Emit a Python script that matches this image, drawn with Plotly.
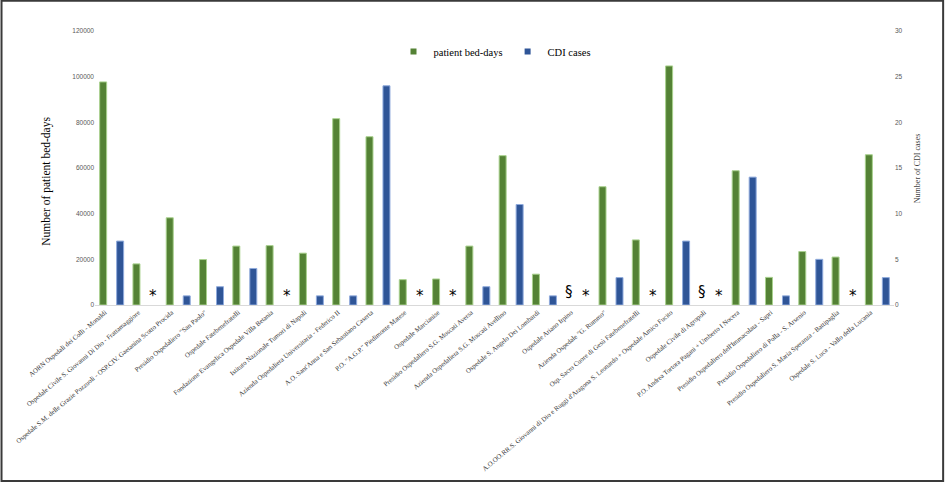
import plotly.graph_objects as go

hospitals = [
    "AORN Ospedali dei Colli - Monaldi",
    "Ospedale Civile S. Giovanni Di Dio - Frattamaggiore",
    "Ospedale S.M. delle Grazie Pozzuoli - OSP.CIV. Gaetanina Scotto Procida",
    "Presidio Ospedaliero \"San Paolo\"",
    "Ospedale Fatebenefratelli",
    "Fondazione Evangelica Ospedale Villa Betania",
    "Istituto Nazionale Tumori di Napoli",
    "Azienda Ospedaliera Universitaria - Federico II",
    "A.O. Sant'Anna e San Sebastiano Caserta",
    "P.O. \"A.G.P.\" Piedimonte Matese",
    "Ospedale Marcianise",
    "Presidio Ospedaliero S.G. Moscati Aversa",
    "Azienda Ospedaliera S.G. Moscati Avellino",
    "Ospedale S. Angelo Dei Lombardi",
    "Ospedale Ariano Irpino",
    "Azienda Ospedale \"G. Rummo\"",
    "Osp. Sacro Cuore di Gesù Fatebenefratelli",
    "A.O.OO.RR.S. Giovanni di Dio e Ruggi d'Aragona S. Leonardo + Ospedale Amico Fucito",
    "Ospedale Civile di Agropoli",
    "P.O. Andrea Tortora Pagani + Umberto I Nocera",
    "Presidio Ospedaliero dell'Immacolata - Sapri",
    "Presidio Ospedaliero di Polla - S. Arsenio",
    "Presidio Ospedaliero S. Maria Speranza - Battipaglia",
    "Ospedale S. Luca - Vallo della Lucania",
]

# None = not available (marked with a symbol on the chart)
bed_days = [97700, 18000, 38200, 19900, 25800, 26000, 22700, 81600, 73700, 11100,
            11400, 25800, 65400, 13500, None, 51800, 28500, 104700, None, 58800,
            12100, 23400, 21000, 65800]
cdi_cases = [7, None, 1, 2, 4, None, 1, 1, 24, None,
             None, 2, 11, 1, None, 3, None, 7, None, 14,
             1, 5, None, 3]

bed_days_note = ["§" if v is None else "" for v in bed_days]
cdi_note = ["*" if v is None else "" for v in cdi_cases]

green = "#548235"
blue = "#2F5597"
idx = list(range(len(hospitals)))

fig = go.Figure()
fig.add_trace(go.Bar(x=idx, y=bed_days, name="patient bed-days", marker_color=green,
                     marker_line=dict(color="#A9D18E", width=1),
                     width=0.21, offset=-0.36, showlegend=False))
fig.add_trace(go.Bar(x=idx, y=cdi_cases, name="CDI cases", marker_color=blue,
                     marker_line=dict(color="#8FAADC", width=1),
                     width=0.21, offset=0.15, yaxis="y2", showlegend=False))

# legend entries with small square keys
fig.add_trace(go.Scatter(x=[None], y=[None], mode="markers", name="patient bed-days",
                         marker=dict(symbol="square", size=6, color=green)))
fig.add_trace(go.Scatter(x=[None], y=[None], mode="markers", name="CDI cases",
                         marker=dict(symbol="square", size=6, color=blue)))

for i, n in enumerate(bed_days_note):
    if n:
        fig.add_annotation(x=i - 0.255, y=0, text=n, showarrow=False, yanchor="bottom",
                           yshift=2, font=dict(family="DejaVu Sans", size=15, color="black"))
for i, n in enumerate(cdi_note):
    if n:
        fig.add_annotation(x=i + 0.255, y=0, text=n, showarrow=False, yanchor="bottom",
                           yshift=-2, font=dict(family="DejaVu Sans", size=15, color="black"))

fig.add_annotation(text="Number of patient bed-days", xref="paper", yref="paper",
                   x=-0.06, y=0.45, xanchor="center", yanchor="middle",
                   textangle=-90, showarrow=False,
                   font=dict(family="Liberation Serif", size=11.5, color="black"))
fig.add_annotation(text="Number of CDI cases", xref="paper", yref="paper",
                   x=1.029, y=0.50, xanchor="center", yanchor="middle",
                   textangle=-90, showarrow=False,
                   font=dict(family="Liberation Serif", size=8, color="#404040"))

# outer frame of the picture
fig.add_shape(type="rect", xref="paper", yref="paper",
              x0=-0.117, x1=1.0615, y0=-0.642, y1=1.11,
              line=dict(color="#3A3A3A", width=2))

fig.update_layout(
    width=945, height=482,
    margin=dict(l=95, r=51, t=31, b=177, autoexpand=False),
    plot_bgcolor="white", paper_bgcolor="white",
    legend=dict(orientation="h", x=0.5, xanchor="center", y=0.925, yanchor="middle",
                font=dict(family="Liberation Serif", size=10.5, color="black"),
                itemwidth=30, bgcolor="rgba(0,0,0,0)"),
    xaxis=dict(tickmode="array", tickvals=[i - 0.2 for i in idx], ticktext=hospitals,
               tickangle=-40, range=[-0.5, len(hospitals) - 0.5], showgrid=False,
               automargin=False, showline=True, linecolor="#D9D9D9", ticks="",
               tickfont=dict(family="Liberation Serif", size=6.8, color="#333333")),
    yaxis=dict(range=[0, 120000], dtick=20000, tickformat="d", showgrid=False,
               zeroline=False, automargin=False,
               tickfont=dict(family="Liberation Sans", size=6.5, color="#595959")),
    yaxis2=dict(range=[0, 30], dtick=5, overlaying="y", side="right", showgrid=False,
                zeroline=False, automargin=False,
                tickfont=dict(family="Liberation Sans", size=6.5, color="#595959")),
)

fig.write_html("out.html", config={"displayModeBar": False},
               post_script="document.body.style.margin='0';")
